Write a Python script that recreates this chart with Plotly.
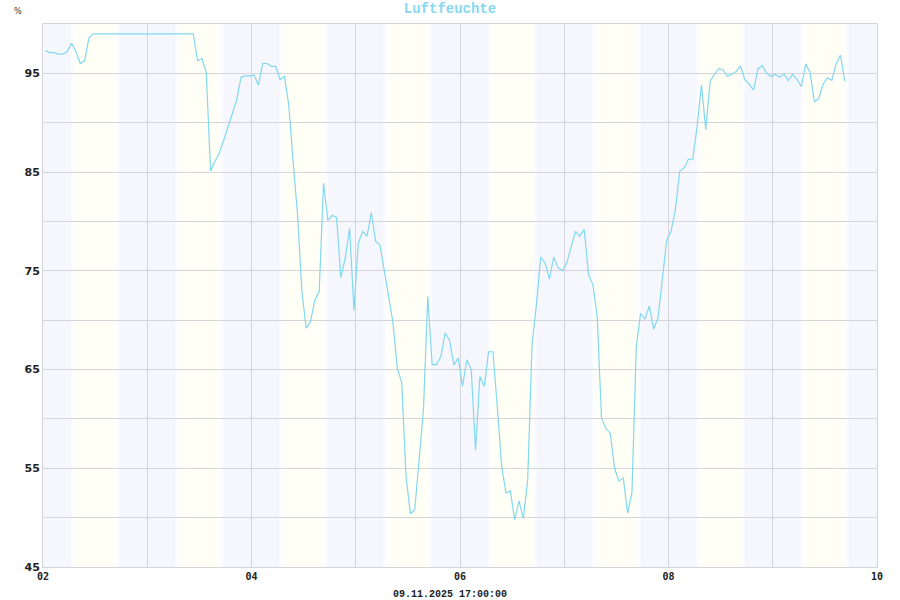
import pandas as pd
import plotly.graph_objects as go

# hourly relative humidity (%); last reading around 09.11.2025 17:00
start = "2025-11-02 00:35"
humidity = [
    97.3, 97.1, 97.1, 96.95, 96.95, 97.2, 98.05, 97.2, 96.0, 96.3, 98.6,
    99.0, 99.0, 99.0, 99.0, 99.0, 99.0, 99.0, 99.0, 99.0, 99.0, 99.0, 99.0,
    99.0, 99.0, 99.0, 99.0, 99.0, 99.0, 99.0, 99.0, 99.0, 99.0, 99.0, 99.0,
    96.3, 96.5, 95.1, 85.1, 86.1, 86.9, 88.2, 89.6, 91.0, 92.3, 94.6, 94.75,
    94.75, 94.85, 93.8, 96.0, 96.0, 95.7, 95.7, 94.35, 94.7, 91.8,
    86.0, 80.8, 73.0, 69.2, 69.85, 72.05, 72.9, 83.9, 80.1, 80.6, 80.4,
    74.3, 76.3, 79.3, 71.0, 77.8, 79.0, 78.5, 80.9, 78.0, 77.6, 74.9,
    72.05, 69.7, 65.1, 63.7, 54.15, 50.4, 50.8, 55.85, 60.9, 72.4, 65.5,
    65.5, 66.3, 68.7, 68.0, 65.45, 66.15, 63.3, 66.0, 65.0, 56.85, 64.3,
    63.3, 66.8, 66.8, 61.25, 55.2, 52.5, 52.7, 49.8, 51.7, 49.9, 53.8,
    67.5, 71.55, 76.4, 75.8, 74.15, 76.4, 75.3, 75.0, 75.8,
    77.3, 79.0, 78.5, 79.2, 74.65, 73.6, 70.4, 60.05, 59.05, 58.55, 55.0,
    53.7, 54.05, 50.45, 52.5, 67.3, 70.7, 70.1, 71.45, 69.1, 70.2, 73.9,
    78.1, 79.0, 81.2,
    85.1,
    85.4, 86.3, 86.3, 89.6, 93.85, 89.3, 94.2, 94.9, 95.5, 95.35, 94.7,
    94.9, 95.2, 95.75, 94.35, 93.9, 93.3, 95.45, 95.8, 95.0, 94.7, 94.9,
    94.6, 94.95, 94.25, 94.9, 94.4, 93.65, 95.95, 95.1, 92.1, 92.45, 93.9,
    94.55, 94.3, 95.95, 96.85, 94.2,
]
times = pd.date_range(start, periods=len(humidity), freq="h")

days = pd.date_range("2025-11-02", "2025-11-10", freq="D")
day_labels = [d.strftime("%d") if i % 2 == 0 else "" for i, d in enumerate(days)]
y_ticks = list(range(45, 101, 5))
y_labels = [str(v) if v % 10 == 5 else "" for v in y_ticks]
footer = "09.11.2025 17:00:00"

NIGHT = "#f6f7fd"
DAY = "#fffff6"
LINE = "#82d8f0"
GRID = "#d4d4da"

fig = go.Figure()

fig.add_trace(go.Scatter(
    x=times, y=humidity, mode="lines",
    line=dict(color=LINE, width=1.2),
    hoverinfo="x+y", showlegend=False,
))

## day / twilight shading (rough sunrise 07:00, sunset 17:00)
fade_in = [(6.4, 6.8, "#fafbfe"), (6.8, 7.2, "#fdfefe"), (7.2, 7.6, "#fefffb")]
fade_out = [(16.4, 16.8, "#fefffb"), (16.8, 17.2, "#fdfefe"), (17.2, 17.6, "#fafbfe")]
for d in days[:-1]:
    h = pd.Timedelta(hours=1)
    fig.add_shape(type="rect", xref="x", yref="paper", layer="below",
                  x0=d + 7.6 * h, x1=d + 16.4 * h, y0=0, y1=1,
                  fillcolor=DAY, line_width=0)
    for a, b, c in fade_in + fade_out:
        fig.add_shape(type="rect", xref="x", yref="paper", layer="below",
                      x0=d + a * h, x1=d + b * h, y0=0, y1=1,
                      fillcolor=c, line_width=0)

fig.update_xaxes(
    range=[days[0], days[-1]],
    tickvals=days, ticktext=day_labels,
    showgrid=True, gridcolor=GRID, gridwidth=1,
    showline=True, linecolor=GRID, linewidth=1, mirror=True,
    ticks="", zeroline=False,
    tickfont=dict(family="DejaVu Sans Mono", size=10, color="#222", weight="bold"),
)
fig.update_yaxes(
    range=[45, 100],
    tickvals=y_ticks, ticktext=y_labels,
    showgrid=True, gridcolor=GRID, gridwidth=1,
    showline=True, linecolor=GRID, linewidth=1, mirror=True,
    ticks="", zeroline=False,
    tickfont=dict(family="DejaVu Sans", size=11, color="#222", weight="bold"),
)

fig.update_layout(
    width=900, height=600,
    margin={"l": 43, "r": 23, "t": 24, "b": 33},
    paper_bgcolor="white",
    plot_bgcolor=NIGHT,
    title=dict(text="Luftfeuchte", x=0.5, xref="container", y=0.986, yanchor="middle",
               font=dict(family="Liberation Mono", size=14, color="#86d8f2", weight="bold")),
    showlegend=False,
)

fig.add_annotation(text="%", xref="paper", yref="paper", x=-0.037, y=1.035,
                   showarrow=False, font=dict(family="DejaVu Sans", size=8, color="#333"))
fig.add_annotation(text=footer, xref="paper", yref="paper", x=0.488, y=-0.05,
                   yanchor="middle", showarrow=False,
                   font=dict(family="Liberation Mono", size=10, color="#222", weight="bold"))

## page body has a default 8px margin; drop it so the 900x600 figure fills the window
fig.write_html("out.html", config={"displayModeBar": False},
               post_script="document.body.style.margin='0px';")
